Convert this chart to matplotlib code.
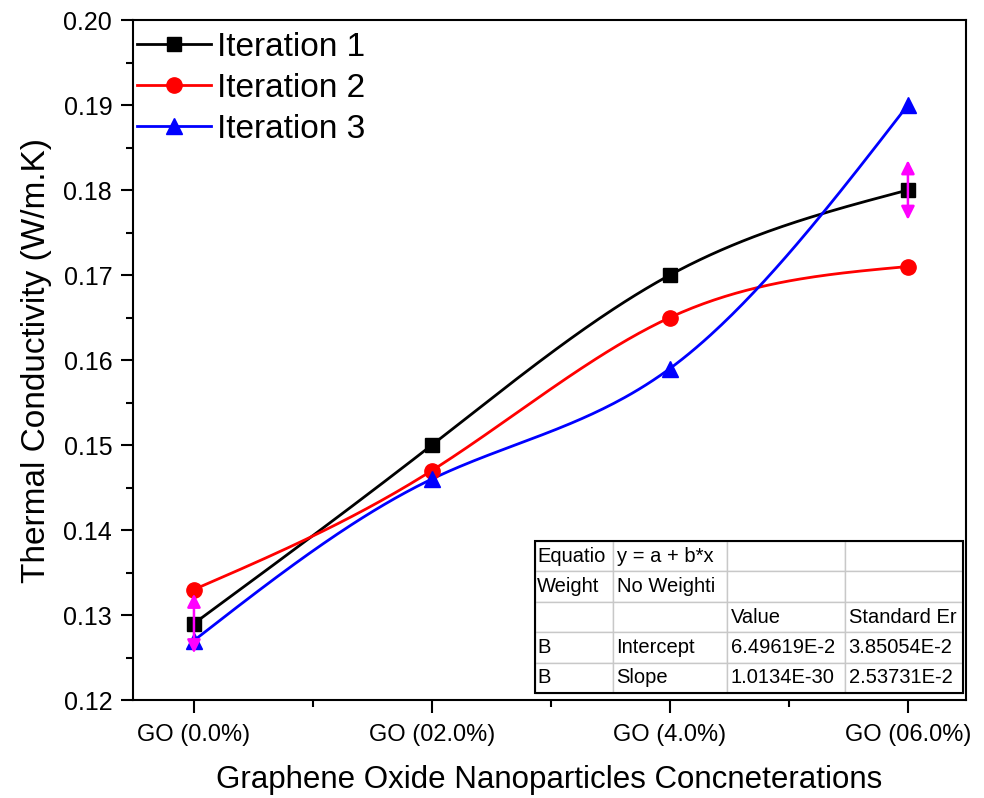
import numpy as np
import matplotlib
matplotlib.use("Agg")
import matplotlib.pyplot as plt
from matplotlib.ticker import MultipleLocator, FixedLocator
from matplotlib.patches import Rectangle

plt.rcParams['font.family'] = ['Liberation Sans', 'DejaVu Sans']

categories = ["GO (0.0%)", "GO (02.0%)", "GO (4.0%)", "GO (06.0%)"]
iter1 = [0.129, 0.150, 0.170, 0.180]
iter2 = [0.133, 0.147, 0.165, 0.171]
iter3 = [0.127, 0.146, 0.159, 0.190]
iter1_err = [0.0035, 0.0, 0.0, 0.0035]

table_rows = [
    ["Equatio", "y = a + b*x", "", ""],
    ["Weight", "No Weighti", "", ""],
    ["", "", "Value", "Standard Er"],
    ["B", "Intercept", "6.49619E-2", "3.85054E-2"],
    ["B", "Slope", "1.0134E-30", "2.53731E-2"],
]


def natural_spline(x, y, n=200):
    x = np.asarray(x, float)
    y = np.asarray(y, float)
    m = len(x)
    h = np.diff(x)
    A = np.zeros((m, m))
    r = np.zeros(m)
    A[0, 0] = 1
    A[-1, -1] = 1
    for i in range(1, m - 1):
        A[i, i - 1] = h[i - 1]
        A[i, i] = 2 * (h[i - 1] + h[i])
        A[i, i + 1] = h[i]
        r[i] = 6 * ((y[i + 1] - y[i]) / h[i] - (y[i] - y[i - 1]) / h[i - 1])
    M = np.linalg.solve(A, r)
    xs = np.linspace(x[0], x[-1], n)
    ys = np.empty_like(xs)
    for k, xv in enumerate(xs):
        i = min(np.searchsorted(x, xv, side='right') - 1, m - 2)
        t1 = x[i + 1] - xv
        t0 = xv - x[i]
        ys[k] = (M[i] * t1 ** 3 / (6 * h[i]) + M[i + 1] * t0 ** 3 / (6 * h[i])
                 + (y[i] / h[i] - M[i] * h[i] / 6) * t1
                 + (y[i + 1] / h[i] - M[i + 1] * h[i] / 6) * t0)
    return xs, ys


fig = plt.figure(figsize=(9.84, 7.98), dpi=100)
ax = fig.add_axes([0.1352, 0.1228, 0.8465, 0.8521])

x = np.arange(len(categories))
series = [
    (iter1, 'black', 's', 10, "Iteration 1"),
    (iter2, 'red', 'o', 11, "Iteration 2"),
    (iter3, 'blue', '^', 12, "Iteration 3"),
]
for vals, col, mk, ms, lab in series:
    xs, ys = natural_spline(x, vals)
    ax.plot(xs, ys, color=col, lw=2.0, zorder=2)
    ax.plot(x, vals, linestyle='none', marker=mk, color=col, ms=ms, zorder=3)
    ax.plot([], [], color=col, lw=2.0, marker=mk, ms=ms, label=lab)

for xi, v, e in zip(x, iter1, iter1_err):
    if e > 0:
        ax.annotate('', xy=(xi, v + e), xytext=(xi, v - e),
                    arrowprops=dict(arrowstyle='<|-|>', color='#ff00ff', lw=1.8,
                                    mutation_scale=20, shrinkA=0, shrinkB=0),
                    zorder=5)

ax.set_xlim(-0.256, 3.244)
ax.set_ylim(0.12, 0.20)
ax.xaxis.set_major_locator(FixedLocator(x))
ax.xaxis.set_minor_locator(FixedLocator(x[:-1] + 0.5))
ax.set_xticklabels(categories)
ax.yaxis.set_major_locator(MultipleLocator(0.01))
ax.yaxis.set_minor_locator(MultipleLocator(0.005))
ax.yaxis.set_major_formatter(matplotlib.ticker.FormatStrFormatter('%.2f'))
ax.tick_params(axis='both', which='major', direction='out', length=9, width=1.5,
               pad=6)
ax.tick_params(axis='y', labelsize=18)
ax.tick_params(axis='x', labelsize=17, pad=8)
ax.tick_params(axis='both', which='minor', direction='out', length=5, width=1.5)
for s in ax.spines.values():
    s.set_linewidth(1.5)

ax.set_ylabel("Thermal Conductivity (W/m.K)", fontsize=24, labelpad=8)
ax.set_xlabel("Graphene Oxide Nanoparticles Concneterations", fontsize=22.5, labelpad=14)

leg = ax.legend(loc='upper left', frameon=False, fontsize=24, handlelength=2.2,
                handletextpad=0.2, labelspacing=0.3, borderaxespad=0.0,
                borderpad=0.35, bbox_to_anchor=(-0.009, 1.0))

tbl = ax.table(cellText=table_rows, cellLoc='left',
               colWidths=[0.094, 0.137, 0.142, 0.142],
               bbox=[0.4826, 0.0103, 0.5138, 0.2235], zorder=6)
tbl.auto_set_font_size(False)
tbl.set_fontsize(14.5)
for (r, c), cell in tbl.get_celld().items():
    cell.set_edgecolor('#c8c8c8')
    cell.set_linewidth(1.0)
    cell.set_facecolor('white')
    cell.PAD = 0.03
ax.add_patch(Rectangle((0.4826, 0.0103), 0.5138, 0.2235, transform=ax.transAxes,
                       fill=False, edgecolor='black', lw=1.5, zorder=7))

fig.savefig("out.png", dpi=100)
